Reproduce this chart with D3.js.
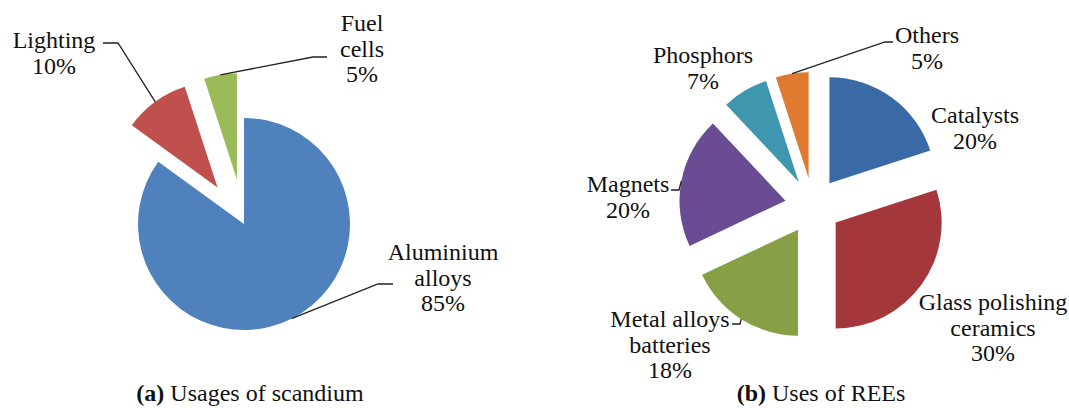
<!DOCTYPE html>
<html>
<head>
<meta charset="utf-8">
<script src="https://cdn.jsdelivr.net/npm/d3@7"></script>
</head>
<body style="margin:0; background:#fff">
<svg width="1069" height="408">
  <!-- static text so the serif face is loaded before the script runs -->
  <text x="-500" y="-500" font-family="Liberation Serif" font-size="24">Aa</text>
  <text x="-500" y="-500" font-family="Liberation Serif" font-size="24" font-weight="bold">Aa</text>
</svg>
<script>
// (a) usages of scandium
const scCategories = ["Aluminium alloys", "Lighting", "Fuel cells"];
const scValues = [85, 10, 5];
const scLabels = [["Aluminium", "alloys", "85%"], ["Lighting", "10%"], ["Fuel", "cells", "5%"]];
const scColors = ["#4f81bd", "#c0504d", "#9bbb59"];

// (b) uses of REEs
const reeCategories = ["Catalysts", "Glass polishing ceramics", "Metal alloys batteries", "Magnets", "Phosphors", "Others"];
const reeValues = [20, 30, 18, 20, 7, 5];
const reeLabels = [["Catalysts", "20%"], ["Glass polishing", "ceramics", "30%"], ["Metal alloys", "batteries", "18%"],
                   ["Magnets", "20%"], ["Phosphors", "7%"], ["Others", "5%"]];
const reeColors = ["#3a6aa5", "#a4373b", "#87a046", "#6a4c93", "#3f97af", "#e07a30"];

var svg = d3.select("svg");

function addText(x, y) {
    return svg.append("text")
        .attr("x", x).attr("y", y)
        .attr("font-size", 24)
        .attr("font-family", "Liberation Serif")
        .attr("fill", "#111");
}

function drawPie(opts) {
    var g = svg.append("g").attr("transform", "translate(" + opts.cx + "," + opts.cy + ")");
    var pie = d3.pie().sort(null).value(d => d);
    var arc = d3.arc().innerRadius(0).outerRadius(opts.r);
    var arcs = pie(opts.values);

    function offset(d, i) {
        var a = (d.startAngle + d.endAngle) / 2, e = opts.explode[i];
        return [Math.sin(a) * e, -Math.cos(a) * e];
    }

    g.selectAll("path")
        .data(arcs)
        .enter()
        .append("path")
        .attr("transform", (d, i) => "translate(" + offset(d, i) + ")")
        .attr("fill", (d, i) => opts.colors[i])
        .attr("d", arc);

    arcs.forEach(function(d, i) {
        var lay = opts.layout[i];
        // leader line from the outer edge of the slice
        if (lay.elbow) {
            var o = offset(d, i), a = (d.startAngle + d.endAngle) / 2;
            var p0 = [opts.cx + o[0] + Math.sin(a) * opts.r, opts.cy + o[1] - Math.cos(a) * opts.r];
            svg.append("path")
                .attr("d", d3.line()([p0, lay.elbow, lay.end]))
                .attr("fill", "none")
                .attr("stroke", "#222")
                .attr("stroke-width", 1.3);
        }
        opts.labels[i].forEach(function(s, k) {
            addText(lay.x, lay.y + k * 25.5).attr("text-anchor", "middle").text(s);
        });
    });
}

drawPie({
    cx: 244, cy: 224, r: 106,
    values: scValues, colors: scColors, labels: scLabels,
    explode: [0, 45, 45],
    layout: [
        { x: 443, y: 260, elbow: [378, 284], end: [393, 284] },
        { x: 54, y: 48, elbow: [118, 43], end: [103, 43] },
        { x: 362, y: 31, elbow: [313, 57], end: [327, 57] }
    ]
});

drawPie({
    cx: 813, cy: 206, r: 106,
    values: reeValues, colors: reeColors, labels: reeLabels,
    explode: [28, 28, 28, 28, 28, 28],
    layout: [
        { x: 975, y: 123 },
        { x: 993, y: 310 },
        { x: 670, y: 327, elbow: [740, 324], end: [732, 324] },
        { x: 628, y: 192, elbow: [679, 190], end: [671, 190] },
        { x: 703, y: 63 },
        { x: 927, y: 43, elbow: [885, 42], end: [893, 42] }
    ]
});

// captions
function caption(x, tag, rest) {
    var t = addText(x, 401).attr("text-anchor", "middle");
    t.append("tspan").attr("font-weight", "bold").text(tag);
    t.append("tspan").text(" " + rest);
}
caption(250, "(a)", "Usages of scandium");
caption(821, "(b)", "Uses of REEs");
</script>
</body>
</html>
